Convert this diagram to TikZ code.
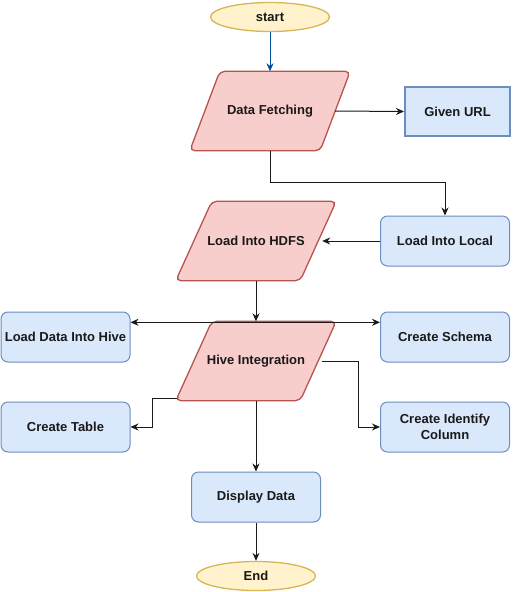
\documentclass[tikz,border=0pt]{standalone}
\usepackage{fontspec}
\setmainfont{Liberation Sans}
\usetikzlibrary{arrows.meta,shapes.geometric}
\pgfdeclarelayer{background}
\pgfsetlayers{background,main}
\definecolor{termfill}{HTML}{FFF2CC}
\definecolor{termline}{HTML}{D6B656}
\definecolor{parafill}{HTML}{F8CECC}
\definecolor{paraline}{HTML}{B85450}
\definecolor{boxfill}{HTML}{DAE8FC}
\definecolor{boxline}{HTML}{6C8EBF}
\definecolor{startarrow}{HTML}{004C99}
\definecolor{edgecol}{HTML}{1A1A1A}
\begin{document}
\begin{tikzpicture}[x=1pt,y=-1pt,
  every node/.style={font=\fontsize{13pt}{16.5pt}\selectfont\bfseries, text=black!90},
  terminal/.style={ellipse, draw=termline, fill=termfill, line width=1.3pt, minimum width=119pt, minimum height=29pt, inner sep=0pt},
  parabody/.style={minimum width=#1, minimum height=79pt, inner sep=0pt},
  paraborder/.style={draw=paraline, fill=parafill, line width=1.3pt, rounded corners=5pt},
  procbox/.style={draw=boxline, fill=boxfill, line width=1pt, rounded corners=7pt, minimum width=129pt, minimum height=50pt, align=center, inner sep=2pt},
  urlbox/.style={draw=boxline, fill=boxfill, line width=2pt, minimum width=105pt, minimum height=49pt},
  arr/.style={draw=edgecol, line width=1pt, -{Stealth[length=8pt,width=7pt]}},
  blarr/.style={draw=startarrow, line width=1pt, -{Stealth[length=8pt,width=7pt]}}
]
\useasboundingbox (0,0) rectangle (512,592);

% terminals
\node[terminal] (start) at (270,17) {start};
\node[terminal] (end) at (256,576) {End};

% parallelogram bodies (invisible), borders drawn below
\node[parabody=130pt] (df) at (270,111) {Data Fetching};
\node[parabody=124pt] (hdfs) at (256,241) {Load Into HDFS};
\node[parabody=124pt] (hive) at (256,361) {Hive Integration};

\begin{pgfonlayer}{background}
\draw[paraborder] ([xshift=15pt]df.north west) -- ([xshift=15pt]df.north east) -- ([xshift=-15pt]df.south east) -- ([xshift=-15pt]df.south west) -- cycle;
\draw[paraborder] ([xshift=18pt]hdfs.north west) -- ([xshift=18pt]hdfs.north east) -- ([xshift=-18pt]hdfs.south east) -- ([xshift=-18pt]hdfs.south west) -- cycle;
\draw[paraborder] ([xshift=18pt]hive.north west) -- ([xshift=18pt]hive.north east) -- ([xshift=-18pt]hive.south east) -- ([xshift=-18pt]hive.south west) -- cycle;
\end{pgfonlayer}

% boxes
\node[urlbox] (url) at (457.5,111.5) {Given URL};
\node[procbox] (local) at (445,241) {Load Into Local};
\node[procbox] (ldh) at (65.5,337) {Load Data Into Hive};
\node[procbox] (schema) at (445,337) {Create Schema};
\node[procbox] (ct) at (65.5,427) {Create Table};
\node[procbox] (idc) at (445,427) {Create Identify\\Column};
\node[procbox] (dd) at (256,497) {Display Data};

% connectors
\begin{pgfonlayer}{background}
\draw[blarr] (start) -- (df);
\draw[arr] (df.east) -- (url.west);
\draw[arr] (df.south) -- ++(0,32) -| (local.north);
\draw[arr] (local.west) -- ([xshift=4pt]hdfs.east);
\draw[arr] (hdfs.south) -- (hive.north);
\draw[arr] ([yshift=-1pt]hive.north) -- ([yshift=-1pt]hive.north -| ldh.east);
\draw[arr] ([yshift=-1pt]hive.north) -- ([yshift=-1pt]hive.north -| schema.west);
\draw[arr] ([xshift=4pt]hive.east) -- ++(36,0) |- (idc.west);
\draw[arr] ([xshift=-17pt,yshift=2pt]hive.south west) -- ++(-24,0) |- (ct.east);
\draw[arr] (hive.south) -- (dd.north);
\draw[arr] (dd.south) -- (end.north);
\end{pgfonlayer}
\end{tikzpicture}
\end{document}
